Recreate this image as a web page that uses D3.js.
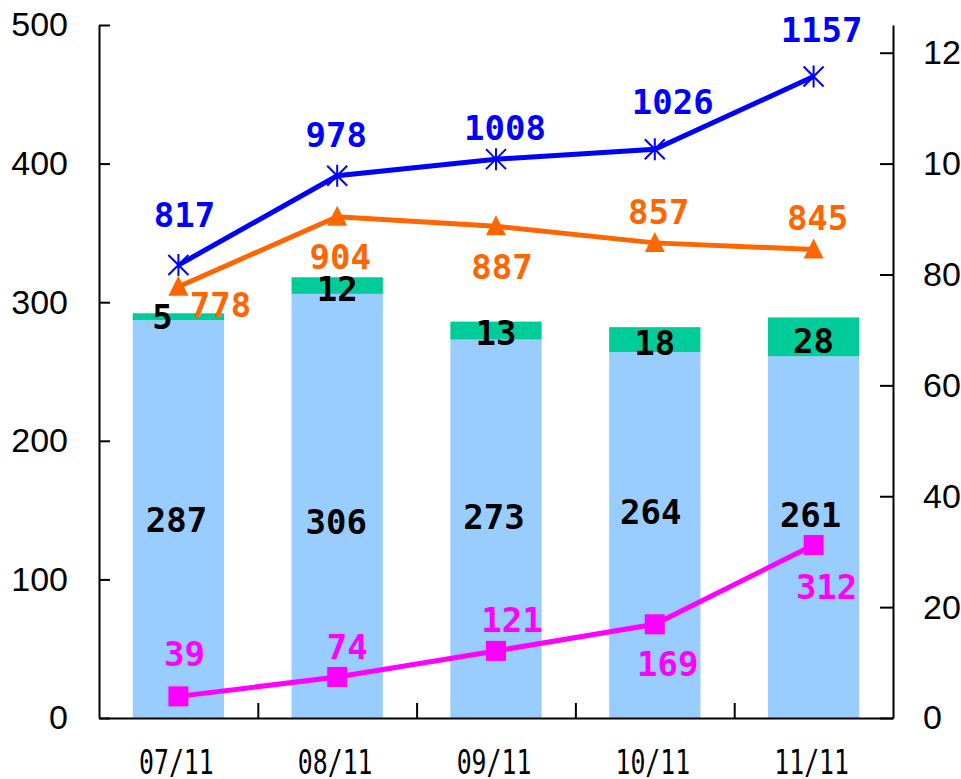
<!DOCTYPE html>
<html>
<head>
<meta charset="UTF-8">
<title>chart</title>
<script src="https://cdn.jsdelivr.net/npm/d3@7/dist/d3.min.js"></script>
<style>
    * { margin: 0; padding: 0; box-sizing: border-box; }
    body { background: #fff; width: 961px; height: 779px; overflow: hidden; }
    .axis path, .axis line { stroke: #000; stroke-width: 2; fill: none; }
    .axis text { font-family: "Liberation Sans", Arial, sans-serif; font-size: 34px; fill: #000; }
    .xlab { font-family: "DejaVu Sans Mono", monospace; font-size: 34px; fill: #000; }
    .lbl { font-family: "DejaVu Sans Mono", monospace; font-size: 34px; font-weight: bold; text-anchor: middle; }
</style>
</head>
<body>
<svg id="chart" width="961" height="779"></svg>
<script>
    // data
    const categories = ["07/11", "08/11", "09/11", "10/11", "11/11"];
    const baseValues = [287, 306, 273, 264, 261];     // light blue bars (left axis)
    const topValues = [5, 12, 13, 18, 28];            // green stacked part (left axis)
    const blueSeries = [817, 978, 1008, 1026, 1157];  // right axis
    const orangeSeries = [778, 904, 887, 857, 845];   // right axis
    const pinkSeries = [39, 74, 121, 169, 312];       // right axis
    const leftTicks = [0, 100, 200, 300, 400, 500];
    const rightTicks = [0, 200, 400, 600, 800, 1000, 1200];

    // label nudges (pixels) so labels sit where the original put them
    const blueOff = [[6, -50], [-1, -41], [9, -31], [18, -47], [8, -47]];
    const orangeOff = [[42, 18], [3, 40], [6, 41], [4, -31], [4, -32]];
    const pinkOff = [[6, -43], [10, -30], [16, -31], [13, 39], [13, 42]];
    const topOff = [[-16, 0], [0, 3], [0, 2], [0, 3], [0, 4]];
    const baseOff = [[-2, 1], [-1, 16], [-2, -12], [-4, -23], [-3, -22]];

    const W = 961, H = 779;
    const M = { top: 25, right: 68, bottom: 61, left: 99 };
    const iw = W - M.left - M.right, ih = H - M.top - M.bottom;

    const svg = d3.select("#chart");
    const g = svg.append("g").attr("transform", `translate(${M.left},${M.top})`);

    const x = d3.scaleBand().domain(categories).range([0, iw])
        .paddingInner(0.425).paddingOuter(0.2125);
    const xLin = d3.scaleLinear().domain([0, categories.length]).range([0, iw]);
    const yL = d3.scaleLinear().domain([0, 500]).range([ih, 0]);
    const yR = d3.scaleLinear().domain([0, 1250]).range([ih, 0]);
    const cx = d => x(d) + x.bandwidth() / 2;

    // bars
    g.selectAll(".base").data(categories).enter().append("rect")
        .attr("x", d => x(d)).attr("width", x.bandwidth())
        .attr("y", (d, i) => yL(baseValues[i]))
        .attr("height", (d, i) => yL(0) - yL(baseValues[i]))
        .attr("fill", "#99CCFF");
    g.selectAll(".top").data(categories).enter().append("rect")
        .attr("x", d => x(d)).attr("width", x.bandwidth())
        .attr("y", (d, i) => yL(baseValues[i] + topValues[i]))
        .attr("height", (d, i) => yL(baseValues[i]) - yL(baseValues[i] + topValues[i]))
        .attr("fill", "#00CC99");

    // axes
    g.append("g").attr("class", "axis")
        .call(d3.axisLeft(yL).tickValues(leftTicks).tickSize(-11).tickSizeOuter(0).tickPadding(31));
    g.append("g").attr("class", "axis").attr("transform", `translate(${iw},0)`)
        .call(d3.axisRight(yR).tickValues(rightTicks).tickFormat(d3.format("d"))
            .tickSize(-13).tickSizeOuter(0).tickPadding(30));
    g.append("g").attr("class", "axis").attr("transform", `translate(0,${ih})`)
        .call(d3.axisBottom(xLin).tickValues([1, 2, 3, 4]).tickSize(-15).tickSizeOuter(0).tickFormat(""));

    g.selectAll(".xlab").data(categories).enter().append("text")
        .attr("class", "xlab")
        .attr("transform", d => `translate(${cx(d) - 2},${ih + 44}) scale(0.73,1)`)
        .attr("dy", "0.36em")
        .attr("text-anchor", "middle")
        .text(d => d);

    // lines
    const line = d3.line().x((d, i) => cx(categories[i])).y(d => yR(d));
    [[blueSeries, "#0000FF"], [orangeSeries, "#FF6600"], [pinkSeries, "#FF00FF"]].forEach(([s, c]) => {
        g.append("path").datum(s).attr("d", line)
            .attr("fill", "none").attr("stroke", c).attr("stroke-width", 5);
    });

    // markers
    g.selectAll(".star").data(blueSeries).enter().append("path")
        .attr("transform", (d, i) => `translate(${cx(categories[i])},${yR(d)})`)
        .attr("d", "M-10,-10L10,10M10,-10L-10,10M0,-11L0,11")
        .attr("stroke", "#0000FF").attr("stroke-width", 2).attr("fill", "none");
    g.selectAll(".tri").data(orangeSeries).enter().append("path")
        .attr("transform", (d, i) => `translate(${cx(categories[i])},${yR(d)})`)
        .attr("d", "M0,-11L10,9L-10,9Z")
        .attr("fill", "#FF6600");
    g.selectAll(".sq").data(pinkSeries).enter().append("rect")
        .attr("x", (d, i) => cx(categories[i]) - 10).attr("y", d => yR(d) - 10)
        .attr("width", 20).attr("height", 20)
        .attr("fill", "#FF00FF");

    // labels
    function labels(vals, yOf, off, color) {
        g.append("g").selectAll("text").data(vals).enter().append("text")
            .attr("class", "lbl")
            .attr("x", (d, i) => cx(categories[i]) + off[i][0])
            .attr("y", (d, i) => yOf(d, i) + off[i][1])
            .attr("dy", "0.36em")
            .attr("fill", color)
            .text(d => d);
    }
    labels(baseValues, d => yL(d / 2), baseOff, "#000");
    labels(topValues, (d, i) => yL(baseValues[i] + d / 2), topOff, "#000");
    labels(blueSeries, d => yR(d), blueOff, "#0000FF");
    labels(orangeSeries, d => yR(d), orangeOff, "#FF6600");
    labels(pinkSeries, d => yR(d), pinkOff, "#FF00FF");
</script>
</body>
</html>
